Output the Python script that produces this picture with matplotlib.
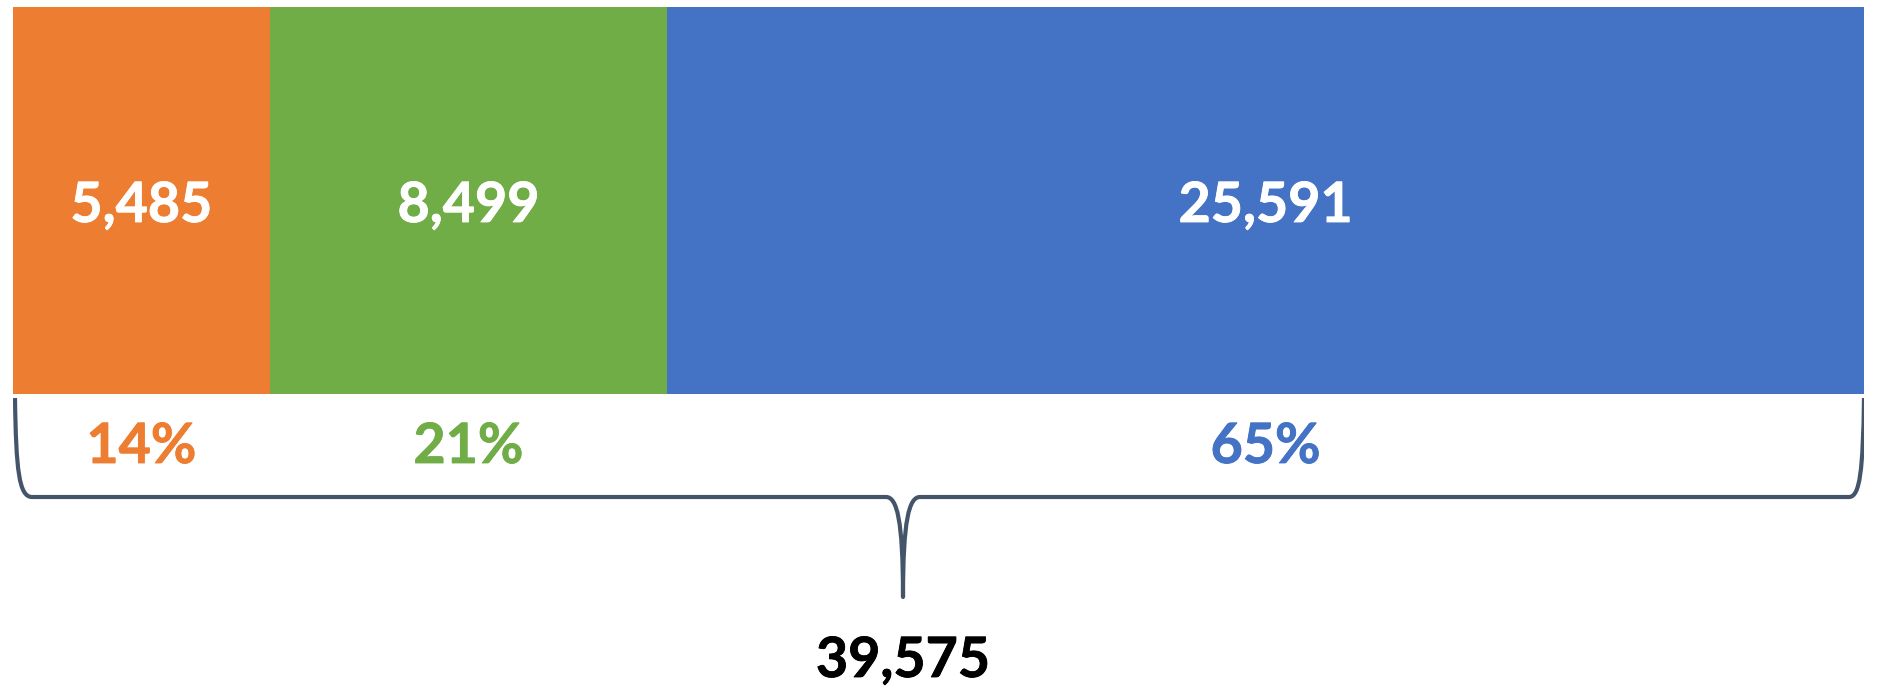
import numpy as np
import matplotlib.pyplot as plt
import matplotlib.patheffects as pe
from matplotlib.path import Path
from matplotlib.patches import PathPatch

# segment values (left to right)
labels = ["5,485", "8,499", "25,591"]
values = [5485, 8499, 25591]
percents = ["14%", "21%", "65%"]
colors = ["#ED7D31", "#70AD47", "#4472C4"]
total_label = "39,575"

W, H = 1877, 692
total = sum(values)
lefts = np.concatenate([[0], np.cumsum(values)[:-1]])

fig = plt.figure(figsize=(W / 100, H / 100), dpi=100)
# axes spans the bar width; y in pixel units (top = 0)
x0_px, x1_px = 13, 1864
ax = fig.add_axes([x0_px / W, 0, (x1_px - x0_px) / W, 1])
ax.set_xlim(0, total)
ax.set_ylim(H, 0)
ax.axis("off")

bar_top, bar_bot = 7, 394
ax.barh((bar_top + bar_bot) / 2, values, left=lefts, height=bar_bot - bar_top,
        color=colors, edgecolor="none")

font = ["Lato", "DejaVu Sans"]


def label(x, y, s, c, size=40):
    # bold text with a thin outline of the same colour to thicken strokes a bit
    ax.text(x, y, s, ha="center", va="baseline", color=c, fontsize=size,
            fontweight="bold", family=font,
            path_effects=[pe.withStroke(linewidth=0.6, foreground=c)])


for l, v, lab, pct, c in zip(lefts, values, labels, percents, colors):
    cx = l + v / 2
    label(cx, 222, lab, "white")
    label(cx, 463, pct, c)

# curly brace under the bar
px = total / (x1_px - x0_px)  # data units per pixel
xl, xr = 2 * px, total
xm = 890 * px
y_top, y_mid, y_tip = 398, 497, 597
verts = [
    (xl, y_top),
    (xl + 1 * px, 470), (xl + 4 * px, y_mid), (xl + 17 * px, y_mid),
    (xm - 17 * px, y_mid),
    (xm - 6 * px, y_mid), (xm, 520), (xm, y_tip),
    (xm, 520), (xm + 6 * px, y_mid), (xm + 17 * px, y_mid),
    (xr - 15 * px, y_mid),
    (xr - 4 * px, y_mid), (xr - 1 * px, 470), (xr, y_top),
]
codes = [Path.MOVETO,
         Path.CURVE4, Path.CURVE4, Path.CURVE4,
         Path.LINETO,
         Path.CURVE4, Path.CURVE4, Path.CURVE4,
         Path.CURVE4, Path.CURVE4, Path.CURVE4,
         Path.LINETO,
         Path.CURVE4, Path.CURVE4, Path.CURVE4]
ax.add_patch(PathPatch(Path(verts, codes), facecolor="none", edgecolor="#44546A",
                       lw=3, capstyle="butt", joinstyle="round"))

label(xm, 677, total_label, "black", size=40)

fig.savefig("out.png", dpi=100)
